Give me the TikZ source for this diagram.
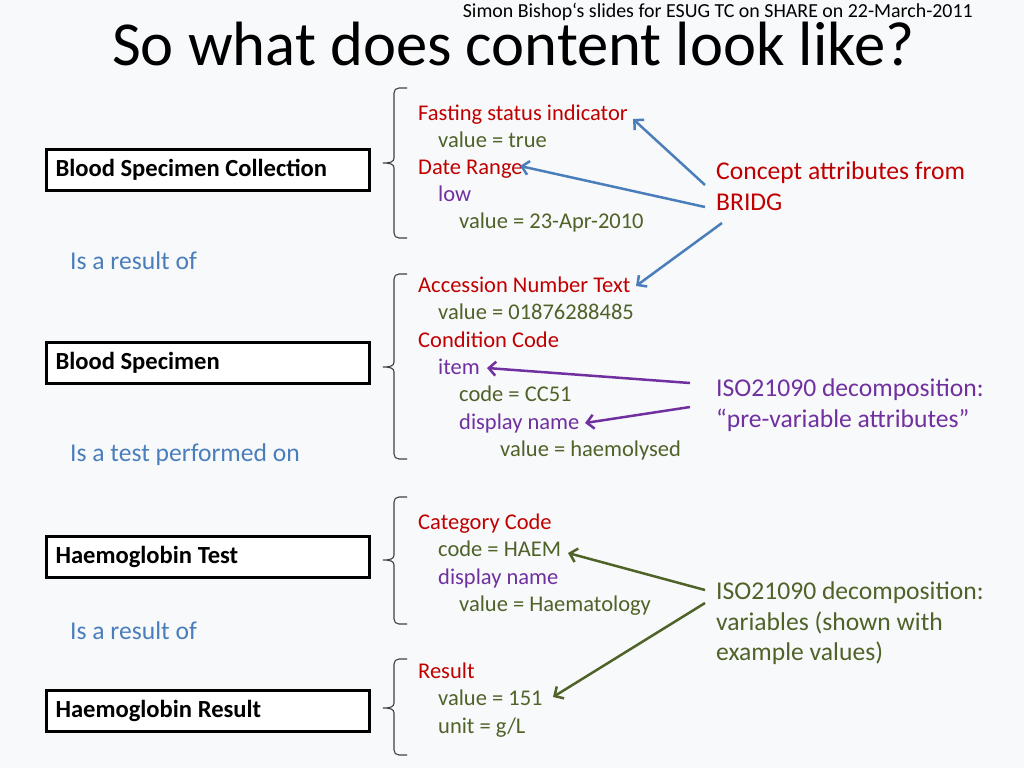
\documentclass[tikz,border=0pt]{standalone}
\usepackage{fontspec}
\setmainfont{Carlito}
\usetikzlibrary{arrows.meta}
\definecolor{bg}{HTML}{F8F9FB}
\definecolor{cred}{HTML}{C00000}
\definecolor{colive}{HTML}{4F6228}
\definecolor{cpurple}{HTML}{7030A0}
\definecolor{cblue}{HTML}{4A7EBB}
\definecolor{cbrace}{HTML}{404040}
\tikzset{
  txt/.style={anchor=base west, inner sep=0pt, font=\fontsize{22.5}{27}\selectfont},
  big/.style={anchor=base west, inner sep=0pt, font=\fontsize{25.6}{30.7}\selectfont},
  rd/.style={txt, text=cred},
  ol/.style={txt, text=colive},
  pu/.style={txt, text=cpurple},
  boxst/.style={draw=black, line width=3pt, fill=white, anchor=west, minimum width=323pt,
     minimum height=41pt, inner xsep=9pt, text width=305pt, align=flush left,
     font=\fontsize{24.6}{30}\selectfont\bfseries},
  bracest/.style={draw=cbrace, line width=1.1pt},
  arr/.style={line width=2.5pt, -{Straight Barb[length=7pt,width=14pt]}},
}
\newcommand{\mybrace}[3]{%
  \draw[bracest] (407,#1) -- (399,#1) .. controls (396,#1) and (394,#1+2) .. (394,#1+5)
     -- (394,#2-5) .. controls (394,#2-1) and (390,#2) .. (383,#2)
     .. controls (390,#2) and (394,#2+1) .. (394,#2+5)
     -- (394,#3-5) .. controls (394,#3-2) and (396,#3) .. (399,#3) -- (407,#3);}
\begin{document}
\begin{tikzpicture}[x=1pt,y=-1pt]
\fill[bg] (0,0) rectangle (1024,768);
\useasboundingbox (0,0) rectangle (1024,768);

% header
\node[anchor=base east, inner sep=0pt, font=\fontsize{19.9}{23}\selectfont] (sub) at (973,18)
  {Simon Bishop‘s slides for ESUG TC on SHARE on 22-March-2011};
\node[anchor=base west, inner sep=0pt, font=\fontsize{62.6}{75}\selectfont] (title) at (112,66)
  {So what does content look like?};

% boxes
\node[boxst] (b1) at (45,170) {Blood Specimen Collection};
\node[boxst] (b2) at (45,363) {Blood Specimen};
\node[boxst] (b3) at (45,557) {Haemoglobin Test};
\node[boxst] (b4) at (45,711) {Haemoglobin Result};

% relation labels
\node[big, text=cblue] (r1) at (70,269) {Is a result of};
\node[big, text=cblue] (r2) at (70,461) {Is a test performed on};
\node[big, text=cblue] (r3) at (70,639) {Is a result of};

% braces
\mybrace{88}{163}{238}
\mybrace{274}{367}{459}
\mybrace{497}{560}{624}
\mybrace{659}{708}{755}

% group 1
\node[rd] (g1a) at (418,120) {Fasting status indicator};
\node[ol] (g1b) at (438,147) {value = true};
\node[rd] (g1c) at (418,174) {Date Range};
\node[pu] (g1d) at (438,201) {low};
\node[ol] (g1e) at (459,228) {value = 23-Apr-2010};
% group 2
\node[rd] (g2a) at (418,292) {Accession Number Text};
\node[ol] (g2b) at (438,319) {value = 01876288485};
\node[rd] (g2c) at (418,347) {Condition Code};
\node[pu] (g2d) at (438,374) {item};
\node[ol] (g2e) at (459,401) {code = CC51};
\node[pu] (g2f) at (459,429) {display name};
\node[ol] (g2g) at (500,456) {value = haemolysed};
% group 3
\node[rd] (g3a) at (418,529) {Category Code};
\node[ol] (g3b) at (438,556) {code = HAEM};
\node[pu] (g3c) at (438,584) {display name};
\node[ol] (g3d) at (459,611) {value = Haematology};
% group 4
\node[rd] (g4a) at (418,678) {Result};
\node[ol] (g4b) at (438,705) {value = 151};
\node[ol] (g4c) at (438,733) {unit = g/L};

% right annotations
\node[big, text=cred] (c1) at (716,179) {Concept attributes from};
\node[big, text=cred] (c2) at (716,210) {BRIDG};
\node[big, text=cpurple] (p1) at (716,396) {ISO21090 decomposition:};
\node[big, text=cpurple] (p2) at (716,427) {“pre-variable attributes”};
\node[big, text=colive] (v1) at (716,599) {ISO21090 decomposition:};
\node[big, text=colive] (v2) at (716,630) {variables (shown with};
\node[big, text=colive] (v3) at (716,660) {example values)};

% arrow end points
\coordinate (cs1) at (705,185);
\coordinate (cs2) at (705,207);
\coordinate (cs3) at (722,223);
\coordinate (ct1) at (633,119);
\coordinate (ct2) at (520,166);
\coordinate (ct3) at (636,286);
\coordinate (ps1) at (690,383);
\coordinate (ps2) at (690,407);
\coordinate (pt1) at (487,368);
\coordinate (pt2) at (585,423);
\coordinate (vs1) at (705,590);
\coordinate (vs2) at (705,603);
\coordinate (vt1) at (568,553);
\coordinate (vt2) at (553,697);

\draw[arr, draw=cblue] (cs1) -- (ct1);
\draw[arr, draw=cblue] (cs2) -- (ct2);
\draw[arr, draw=cblue] (cs3) -- (ct3);
\draw[arr, draw=cpurple] (ps1) -- (pt1);
\draw[arr, draw=cpurple] (ps2) -- (pt2);
\draw[arr, draw=colive] (vs1) -- (vt1);
\draw[arr, draw=colive] (vs2) -- (vt2);
\end{tikzpicture}
\end{document}
